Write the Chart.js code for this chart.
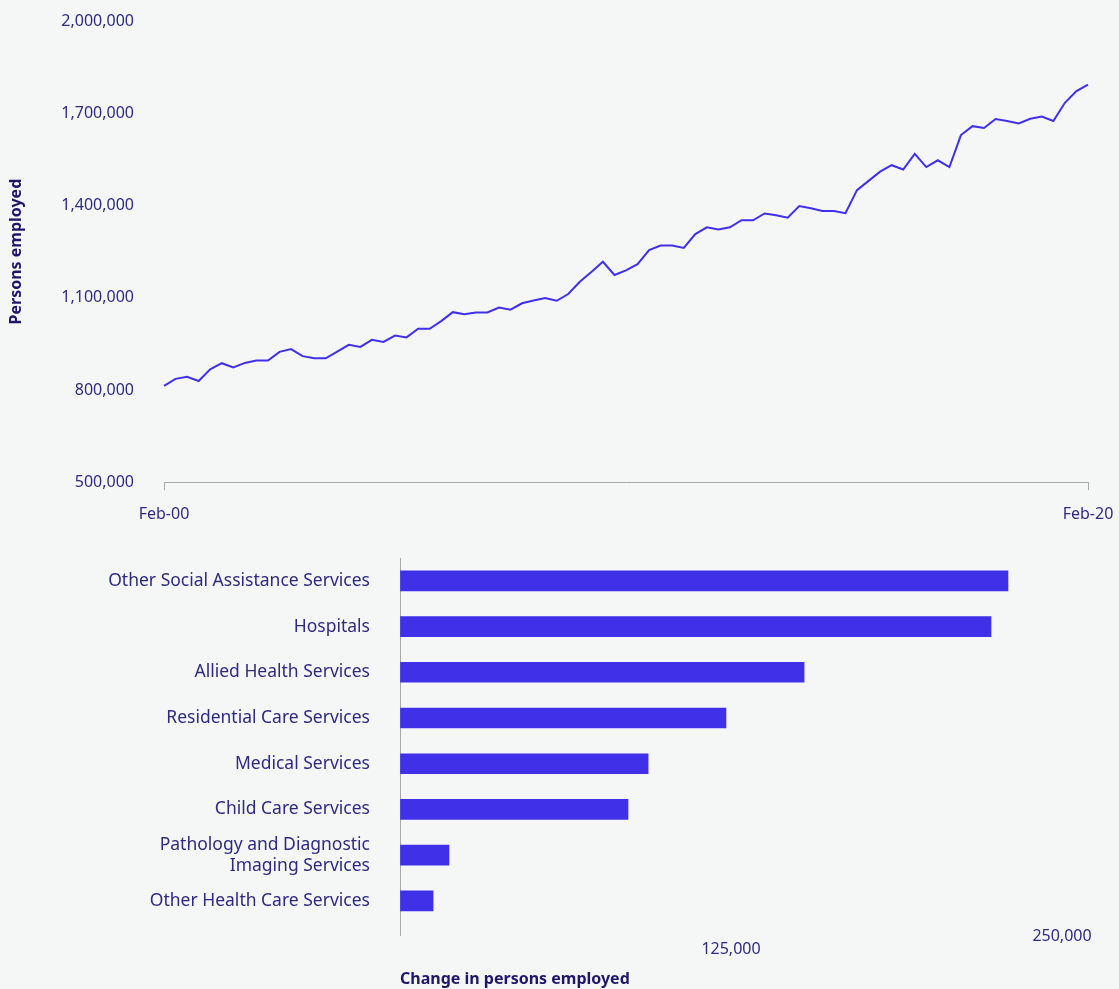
<!DOCTYPE html>
<html>
<head>
<meta charset="utf-8">
<script src="https://cdn.jsdelivr.net/npm/chart.js@4/dist/chart.umd.min.js"></script>
<style>
  html, body { margin: 0; padding: 0; background: #f5f7f7; }
  body { width: 1119px; height: 989px; position: relative; overflow: hidden; }
  #lineWrap { position: absolute; left: 0; top: 0; width: 1119px; height: 540px; }
  #barWrap { position: absolute; left: 0; top: 540px; width: 1119px; height: 449px; }
</style>
</head>
<body>
<div id="lineWrap"><canvas id="lineChart" width="1119" height="540"></canvas></div>
<div id="barWrap"><canvas id="barChart" width="1119" height="449"></canvas></div>
<script>
// ---------- Data: total persons employed (quarterly, Feb-00 to Feb-20) ----------
const quarters = [
  'Feb-00','May-00','Aug-00','Nov-00','Feb-01','May-01','Aug-01','Nov-01',
  'Feb-02','May-02','Aug-02','Nov-02','Feb-03','May-03','Aug-03','Nov-03',
  'Feb-04','May-04','Aug-04','Nov-04','Feb-05','May-05','Aug-05','Nov-05',
  'Feb-06','May-06','Aug-06','Nov-06','Feb-07','May-07','Aug-07','Nov-07',
  'Feb-08','May-08','Aug-08','Nov-08','Feb-09','May-09','Aug-09','Nov-09',
  'Feb-10','May-10','Aug-10','Nov-10','Feb-11','May-11','Aug-11','Nov-11',
  'Feb-12','May-12','Aug-12','Nov-12','Feb-13','May-13','Aug-13','Nov-13',
  'Feb-14','May-14','Aug-14','Nov-14','Feb-15','May-15','Aug-15','Nov-15',
  'Feb-16','May-16','Aug-16','Nov-16','Feb-17','May-17','Aug-17','Nov-17',
  'Feb-18','May-18','Aug-18','Nov-18','Feb-19','May-19','Aug-19','Nov-19',
  'Feb-20'
];
const personsEmployed = [
  813000, 836000, 843000, 829000, 867000, 887000, 873000, 888000,
  896000, 896000, 924000, 933000, 910000, 903000, 903000, 925000,
  947000, 940000, 963000, 956000, 977000, 971000, 999000, 999000,
  1024000, 1053000, 1046000, 1052000, 1052000, 1068000, 1061000, 1082000,
  1091000, 1099000, 1090000, 1112000, 1152000, 1184000, 1217000, 1174000,
  1189000, 1209000, 1255000, 1270000, 1270000, 1262000, 1307000, 1329000,
  1322000, 1329000, 1352000, 1352000, 1374000, 1368000, 1360000, 1398000,
  1391000, 1382000, 1382000, 1375000, 1450000, 1480000, 1510000, 1531000,
  1517000, 1568000, 1525000, 1547000, 1525000, 1629000, 1658000, 1652000,
  1681000, 1675000, 1667000, 1682000, 1689000, 1675000, 1734000, 1772000,
  1793000
];
const lineYMin = 500000;
const lineYMax = 2000000;
const lineYStep = 300000;

// ---------- Data: change in persons employed by sector ----------
const sectors = [
  'Other Social Assistance Services',
  'Hospitals',
  'Allied Health Services',
  'Residential Care Services',
  'Medical Services',
  'Child Care Services',
  ['Pathology and Diagnostic', 'Imaging Services'],
  'Other Health Care Services'
];
const changeEmployed = [229600, 223200, 152600, 123100, 93700, 86100, 18500, 12500];
const barXTicks = [0, 125000, 250000];

// ---------- Styles ----------
const FONT = "'Noto Sans', 'Open Sans', sans-serif";
const TICK_COLOR = '#2d2a80';
const TITLE_COLOR = '#1e1769';
const MARK_COLOR = '#4030e8';
const AXIS_COLOR = '#a9a9a9';
const NONE = 'rgba(0,0,0,0)';
const fmt = v => Number(v).toLocaleString('en-US');

Chart.defaults.font.family = FONT;
Chart.defaults.color = TICK_COLOR;

// ---------- Line chart ----------
const lastIdx = quarters.length - 1;
new Chart(document.getElementById('lineChart'), {
  type: 'line',
  data: {
    labels: quarters,
    datasets: [{
      data: personsEmployed,
      borderColor: MARK_COLOR,
      borderWidth: 2,
      pointRadius: 0,
      pointHoverRadius: 0,
      tension: 0,
      fill: false
    }]
  },
  options: {
    responsive: false,
    animation: false,
    events: [],
    layout: { padding: { top: 21, right: 31, bottom: 15, left: 0 } },
    plugins: { legend: { display: false }, tooltip: { enabled: false } },
    scales: {
      x: {
        type: 'category',
        offset: false,
        grid: {
          display: true,
          offset: false,
          drawOnChartArea: false,
          drawTicks: true,
          tickLength: 8,
          lineWidth: 1,
          color: c => (c.index === 0 || c.index === lastIdx) ? AXIS_COLOR : NONE
        },
        border: { display: true, color: AXIS_COLOR, width: 1 },
        ticks: {
          autoSkip: false,
          maxRotation: 0,
          minRotation: 0,
          padding: 3,
          color: TICK_COLOR,
          font: { size: 16, lineHeight: 0.9, family: FONT },
          callback: (v, i) => (i === 0 || i === lastIdx) ? ['', quarters[i]] : ''
        }
      },
      y: {
        min: lineYMin,
        max: lineYMax,
        grid: { display: false, drawTicks: true, tickLength: 27 },
        border: { display: false },
        afterFit: s => { s.width = 164; },
        ticks: {
          stepSize: lineYStep,
          padding: 3,
          color: TICK_COLOR,
          font: { size: 16, family: FONT },
          callback: v => fmt(v)
        },
        title: {
          display: true,
          text: 'Persons employed',
          color: TITLE_COLOR,
          font: { size: 16, weight: 'bold', family: FONT },
          padding: { top: 7, bottom: 4 }
        }
      }
    }
  }
});

// ---------- Horizontal bar chart ----------
new Chart(document.getElementById('barChart'), {
  type: 'bar',
  data: {
    datasets: [{
      data: changeEmployed.map((v, i) => ({ x: v, y: i })),
      backgroundColor: MARK_COLOR,
      borderWidth: 0,
      barThickness: 20
    }]
  },
  options: {
    indexAxis: 'y',
    responsive: false,
    animation: false,
    events: [],
    layout: { padding: { top: 18, right: 57, bottom: 0, left: 0 } },
    plugins: { legend: { display: false }, tooltip: { enabled: false } },
    scales: {
      y: {
        type: 'linear',
        reverse: true,
        offset: false,
        min: -0.5,
        max: sectors.length - 0.406,
        grid: { display: false, offset: false, drawTicks: true, tickLength: 30 },
        border: { display: false },
        afterFit: s => { s.width = 400; },
        afterBuildTicks: s => { s.ticks = sectors.map((_, i) => ({ value: i })); },
        ticks: {
          autoSkip: false,
          padding: 0,
          color: TICK_COLOR,
          font: { size: 17.5, lineHeight: 1.2, family: FONT },
          callback: v => sectors[v]
        }
      },
      x: {
        type: 'linear',
        min: 0,
        max: barXTicks[barXTicks.length - 1],
        grid: {
          display: true,
          drawOnChartArea: true,
          drawTicks: true,
          tickLength: 8,
          lineWidth: 1,
          color: c => (c.tick && c.tick.value === 0) ? AXIS_COLOR : NONE
        },
        border: { display: false },
        afterBuildTicks: s => { s.ticks = barXTicks.map(v => ({ value: v })); },
        ticks: {
          autoSkip: false,
          padding: -6.5,
          maxRotation: 0,
          color: TICK_COLOR,
          font: { size: 16, lineHeight: 0.8125, family: FONT },
          callback: (v, i) => v === 0 ? '' : (i === 1 ? ['', fmt(v)] : fmt(v))
        },
        title: {
          display: true,
          text: 'Change in persons employed',
          align: 'start',
          color: TITLE_COLOR,
          font: { size: 16, weight: 'bold', family: FONT },
          padding: { top: 20.8, bottom: 0 }
        }
      }
    }
  }
});
</script>
</body>
</html>
